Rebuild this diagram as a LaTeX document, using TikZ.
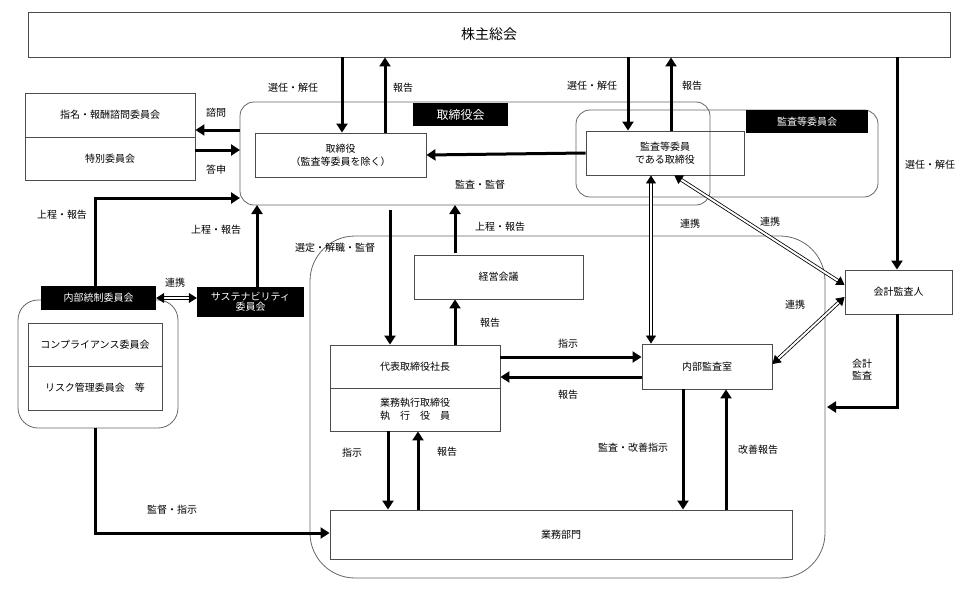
\documentclass[tikz,border=0pt]{standalone}
\usepackage{fontspec}
\setmainfont{Noto Sans CJK JP}
\usetikzlibrary{arrows.meta}

\begin{document}
\begin{tikzpicture}[x=1pt,y=-1pt,
	box/.style={draw=black!70,line width=0.9pt,align=center,inner sep=0pt,font=\fontsize{10}{13}\selectfont},
	tag/.style={fill=black,text=white,align=center,inner sep=0pt,font=\fontsize{10}{11}\selectfont},
	grp/.style={draw=black!60,line width=0.8pt,rounded corners=14pt},
	arr/.style={line width=3pt,-{Triangle[length=9pt,width=11pt]}},
	link/.style={double=white,draw=black,line width=0.8pt,double distance=2pt,{Triangle[length=8pt,width=10pt]}-{Triangle[length=8pt,width=10pt]}},
	lbl/.style={font=\fontsize{10}{12}\selectfont,inner sep=1pt,align=center}]
		\useasboundingbox (0,0) rectangle (980,600);
		
		%groups
		\draw[grp] (240,102) rectangle (710,205);
		\draw[grp] (576,110) rectangle (878,197);
		\draw[grp,rounded corners=45pt] (310,236) rectangle (825,578);
		\draw[grp,rounded corners=20pt] (18,300) rectangle (178,428);
		
		%boxes
		\node[box,minimum width=922pt,minimum height=45pt,font=\fontsize{14}{16}\selectfont] (meeting) at (489,34.5) {株主総会};
		\node[box,minimum width=170pt,minimum height=44pt] (advisory) at (110,115) {指名・報酬諮問委員会};
		\node[box,minimum width=170pt,minimum height=43pt] (special) at (110,158.5) {特別委員会};
		\node[box,minimum width=171pt,minimum height=44pt] (director) at (340.5,155) {取締役\\（監査等委員を除く）};
		\node[box,minimum width=158pt,minimum height=44pt] (auditdir) at (665,153) {監査等委員\\である取締役};
		\node[box,minimum width=107pt,minimum height=44pt] (accountant) at (898.5,292) {会計監査人};
		\node[box,minimum width=169pt,minimum height=44pt] (mgmt) at (498.5,277) {経営会議};
		\node[box,minimum width=170pt,minimum height=43pt] (president) at (415,366.5) {代表取締役社長};
		\node[box,minimum width=170pt,minimum height=43pt] (officers) at (415,409.5) {業務執行取締役\\執\quad 行\quad 役\quad 員};
		\node[box,minimum width=130pt,minimum height=45pt] (internal) at (707,366.5) {内部監査室};
		\node[box,minimum width=462pt,minimum height=49pt] (business) at (561,534.5) {業務部門};
		\node[box,minimum width=134pt,minimum height=43pt] (compliance) at (95,344.5) {コンプライアンス委員会};
		\node[box,minimum width=134pt,minimum height=44pt] (risk) at (95,388) {リスク管理委員会\quad 等};
		
		%tags
		\node[tag,minimum width=95pt,minimum height=23pt,font=\fontsize{12}{13}\selectfont] (boardtag) at (460.5,114.5) {取締役会};
		\node[tag,minimum width=122pt,minimum height=23pt] (audittag) at (807,121.5) {監査等委員会};
		\node[tag,minimum width=115pt,minimum height=24pt] (controltag) at (98.5,298) {内部統制委員会};
		\node[tag,minimum width=107pt,minimum height=30pt,font=\fontsize{10}{10}\selectfont] (sustain) at (250.5,302) {サステナビリティ\\委員会};
		
		%arrows
		\draw[arr] (meeting.south -| 342,0) -- (director.north -| 342,0);
		\draw[arr] (director.north -| 385,0) -- (meeting.south -| 385,0);
		\draw[arr] (meeting.south -| 628,0) -- (auditdir.north -| 628,0);
		\draw[arr] (auditdir.north -| 671,0) -- (meeting.south -| 671,0);
		\draw[arr] (meeting.south -| 897,0) -- (accountant.north -| 897,0);
		\draw[arr] (auditdir.west) -- (director.east);
		\draw[arr] (240,130) -- (advisory.east |- 0,130);
		\draw[arr] (special.east |- 0,150) -- (240,150);
		\draw[arr] (controltag.north -| 95,0) |- (240,198);
		\draw[arr] (sustain.north -| 257,0) -- (257,205);
		\draw[arr] (risk.south -| 95,0) ++(0,18) |- (business.west |- 0,533);
		\draw[arr] (390,210) -- (president.north -| 390,0);
		\draw[arr] (455,253) -- (455,205);
		\draw[arr] (president.north -| 455,0) -- (mgmt.south -| 455,0);
		\draw[arr] (president.east |- 0,357) -- (internal.west |- 0,357);
		\draw[arr] (internal.west |- 0,377) -- (president.east |- 0,377);
		\draw[arr] (officers.south -| 388,0) -- (business.north -| 388,0);
		\draw[arr] (business.north -| 418,0) -- (officers.south -| 418,0);
		\draw[arr] (internal.south -| 683,0) -- (business.north -| 683,0);
		\draw[arr] (business.north -| 726,0) -- (internal.south -| 726,0);
		\draw[arr] (accountant.south -| 897,0) |- (827,407);
		
		%links
		\draw[link] (auditdir.south -| 651,0) -- (internal.north -| 651,0);
		\draw[link] (auditdir.south east) ++(-70,0) -- (accountant.west |- 0,285);
		\draw[link] (accountant.west |- 0,297) -- (internal.east |- 0,364);
		\draw[link] (controltag.east) -- (sustain.west |- controltag.east);
		
		%labels
		\node[lbl] (l1) at (293,88) {選任・解任};
		\node[lbl] (l2) at (403,88) {報告};
		\node[lbl] (l3) at (592,86) {選任・解任};
		\node[lbl] (l4) at (692,86) {報告};
		\node[lbl] (l5) at (930,165) {選任・解任};
		\node[lbl] (l6) at (216,113) {諮問};
		\node[lbl] (l7) at (216,170) {答申};
		\node[lbl] (l8) at (480,185) {監査・監督};
		\node[lbl] (l9) at (62,215) {上程・報告};
		\node[lbl] (l10) at (216,230) {上程・報告};
		\node[lbl] (l11) at (500,227) {上程・報告};
		\node[lbl] (l12) at (335,248) {選定・解職・監督};
		\node[lbl] (l13) at (490,323) {報告};
		\node[lbl] (l14) at (175,283) {連携};
		\node[lbl] (l15) at (690,224) {連携};
		\node[lbl] (l16) at (770,222) {連携};
		\node[lbl] (l17) at (795,305) {連携};
		\node[lbl] (l18) at (568,344) {指示};
		\node[lbl] (l19) at (568,395) {報告};
		\node[lbl] (l20) at (862,370) {会計\\監査};
		\node[lbl] (l21) at (352,453) {指示};
		\node[lbl] (l22) at (447,452) {報告};
		\node[lbl] (l23) at (633,448) {監査・改善指示};
		\node[lbl] (l24) at (758,450) {改善報告};
		\node[lbl] (l25) at (172,510) {監督・指示};
		
\end{tikzpicture}
\end{document}
